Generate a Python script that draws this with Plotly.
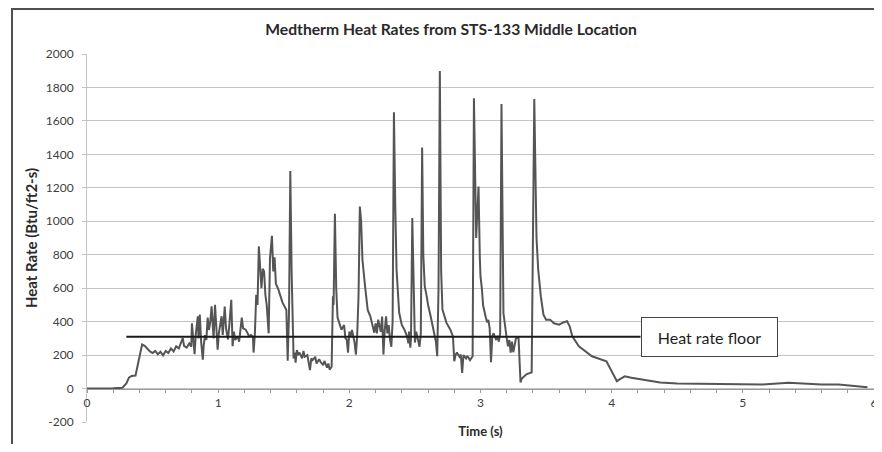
import plotly.graph_objects as go

# ---------------- data ----------------
time_s = [
    0.00, 0.10, 0.20, 0.27, 0.30, 0.32, 0.34, 0.37, 0.39, 0.41, 0.42, 0.44, 0.46, 0.48, 0.50,
    0.52, 0.54, 0.56, 0.58, 0.60, 0.62, 0.64, 0.66, 0.68, 0.70, 0.72, 0.73, 0.74, 0.76, 0.78,
    0.795, 0.80, 0.81, 0.82, 0.83, 0.845, 0.85, 0.86, 0.87, 0.883, 0.89, 0.90, 0.91, 0.92, 0.93,
    0.94, 0.95, 0.96, 0.965, 0.976, 0.985, 0.996, 1.005, 1.015, 1.026, 1.035, 1.05, 1.06, 1.075,
    1.085, 1.10, 1.11, 1.12, 1.13, 1.15, 1.16, 1.18, 1.19, 1.21, 1.225, 1.235, 1.25, 1.265, 1.27,
    1.28, 1.29, 1.30, 1.31, 1.33, 1.34, 1.35, 1.36, 1.37, 1.385, 1.395, 1.41, 1.42, 1.43, 1.44,
    1.46, 1.49, 1.52, 1.53, 1.54, 1.55, 1.56, 1.575, 1.585, 1.59, 1.60, 1.61, 1.62, 1.64, 1.65,
    1.66, 1.68, 1.69, 1.70, 1.71, 1.72, 1.74, 1.75, 1.77, 1.78, 1.80, 1.81, 1.83, 1.84, 1.85,
    1.865, 1.875, 1.88, 1.89, 1.90, 1.91, 1.92, 1.94, 1.96, 1.97, 1.98, 1.99, 2.00, 2.01, 2.02,
    2.04, 2.05, 2.06, 2.07, 2.08, 2.09, 2.10, 2.12, 2.14, 2.16, 2.17, 2.18, 2.19, 2.20, 2.21,
    2.22, 2.23, 2.24, 2.25, 2.26, 2.27, 2.28, 2.29, 2.30, 2.31, 2.32, 2.33, 2.34, 2.35, 2.36,
    2.38, 2.40, 2.42, 2.43, 2.44, 2.45, 2.455, 2.465, 2.47, 2.48, 2.49, 2.50, 2.51, 2.52, 2.535,
    2.545, 2.555, 2.564, 2.575, 2.59, 2.60, 2.62, 2.64, 2.66, 2.67, 2.68, 2.69, 2.70, 2.71, 2.72,
    2.74, 2.77, 2.79, 2.80, 2.81, 2.82, 2.84, 2.85, 2.86, 2.87, 2.89, 2.90, 2.92, 2.94, 2.95,
    2.967, 2.985, 2.995, 3.00, 3.01, 3.02, 3.04, 3.05, 3.06, 3.07, 3.08, 3.09, 3.10, 3.12, 3.13,
    3.14, 3.15, 3.16, 3.175, 3.19, 3.20, 3.21, 3.22, 3.23, 3.24, 3.25, 3.26, 3.27, 3.29, 3.305,
    3.315, 3.35, 3.39, 3.41, 3.427, 3.44, 3.46, 3.48, 3.50, 3.53, 3.56, 3.60, 3.63, 3.66, 3.68,
    3.70, 3.75, 3.85, 3.96, 4.04, 4.06, 4.10, 4.15, 4.22, 4.30, 4.37, 4.50, 4.62, 4.80, 4.97,
    5.15, 5.35, 5.48, 5.60, 5.73, 5.95, 6.00,
]
heat_rate = [
    0, 0, 2, 5, 30, 65, 75, 78, 150, 240, 263, 255, 238, 222, 212,
    225, 205, 220, 198, 225, 212, 240, 222, 252, 240, 280, 302, 255, 245, 270,
    250, 390, 300, 205, 330, 432, 300, 442, 280, 173, 260, 320, 290, 424, 350,
    400, 491, 380, 300, 501, 350, 233, 330, 380, 432, 320, 490, 360, 293,
    380, 531, 253, 340, 290, 312, 280, 424, 360, 352, 330, 312, 320, 310, 215,
    330, 561, 500, 850, 600, 716, 700, 560, 500, 330, 780, 913, 700, 784,
    627, 590, 515, 470, 167, 450, 1300, 700, 179, 215, 155, 230, 200, 215, 180,
    225, 190, 200, 160, 110, 180, 170, 190, 150, 175, 160, 140, 165, 125, 150,
    113, 130, 551, 500, 1045, 600, 424, 400, 352, 380, 300, 293, 215, 340, 312,
    350, 275, 203, 320, 550, 1088, 1000, 770, 611, 470, 432, 394, 360, 334, 390,
    330, 412, 380, 340, 430, 203, 350, 432, 330, 380, 293, 250, 400, 1652, 1100,
    710, 453, 380, 352, 330, 312, 270, 340, 245, 300, 1019, 500, 275, 340, 300,
    250, 330, 1441, 800, 611, 551, 501, 432, 352, 280, 193, 600, 1899, 700, 472,
    442, 394, 352, 312, 163, 200, 215, 190, 203, 94, 200, 180, 195, 170, 193,
    1735, 900, 1208, 776, 670, 600, 496, 426, 396, 410, 360, 157, 316, 330, 290,
    316, 280, 330, 1701, 450, 334, 300, 253, 290, 215, 280, 217, 250, 300, 303,
    36, 60, 85, 97, 1731, 900, 710, 551, 442, 412, 412, 390, 382, 395, 402,
    372, 312, 253, 193, 163, 44, 55, 73, 64, 55, 44, 36, 30, 29, 28,
    26, 24, 34, 27, 24, 24, 8,
]

floor_time = [0.3, 4.22]
floor_value = [310, 310]
floor_label = "Heat rate floor"

y_tick_vals = [-200, 0, 200, 400, 600, 800, 1000, 1200, 1400, 1600, 1800, 2000]
y_tick_text = [str(v) for v in y_tick_vals]
x_tick_vals = [0, 1, 2, 3, 4, 5, 6]
x_tick_text = [str(v) for v in x_tick_vals]

title_text = "Medtherm Heat Rates from STS-133 Middle Location"
x_title = "Time (s)"
y_title = "Heat Rate (Btu/ft2-s)"

FONT = "Lato, 'Open Sans', sans-serif"

# the page body has an 8 px margin: the figure is drawn 8 px in from the top-left
W, H = 874, 436

fig = go.Figure()
fig.add_trace(go.Scatter(
    x=time_s, y=heat_rate, mode="lines",
    line=dict(color="#555555", width=2), showlegend=False, hoverinfo="skip",
))
fig.add_trace(go.Scatter(
    x=floor_time, y=floor_value, mode="lines",
    line=dict(color="#1a1a1a", width=2), showlegend=False, hoverinfo="skip",
))

y0, y1 = -200, 2000
zero_pos = (0 - y0) / (y1 - y0)

fig.update_layout(
    width=W, height=H,
    margin=dict(l=79, r=8, t=46, b=22),
    paper_bgcolor="white", plot_bgcolor="white",
    font=dict(family=FONT, size=12, color="#404040"),
    title=dict(text="<b>" + title_text + "</b>", x=443 / W, xref="container", xanchor="center",
               y=1 - 22 / H, yref="container", yanchor="middle",
               font=dict(family=FONT, size=15.7, color="#2a2a2a")),
    xaxis=dict(
        range=[0, 6], anchor="free", position=zero_pos,
        tickvals=x_tick_vals, ticktext=x_tick_text,
        showgrid=False, zeroline=False,
        showline=True, linecolor="#9a9a9a", linewidth=1,
        ticks="outside", ticklen=3, tickcolor="#9a9a9a",
        minor=dict(dtick=0.2, tick0=0, ticks="outside", ticklen=3, tickcolor="#9a9a9a"),
        tickfont=dict(size=12, color="#404040"),
        title=dict(text="<b>" + x_title + "</b>", standoff=17,
                   font=dict(family=FONT, size=13, color="#2a2a2a")),
        automargin=False,
    ),
    yaxis=dict(
        range=[y0, y1], tickvals=y_tick_vals, ticktext=y_tick_text,
        showgrid=True, gridcolor="#c4c4c4", gridwidth=1,
        zeroline=False, showline=True, linecolor="#c4c4c4", linewidth=1,
        ticks="outside", ticklen=4, tickcolor="#c4c4c4",
        ticklabelstandoff=6,
        tickfont=dict(size=12, color="#404040"),
        title=dict(text="<b>" + y_title + "</b>", standoff=4,
                   font=dict(family=FONT, size=15, color="#2a2a2a")),
        automargin=False,
    ),
    annotations=[dict(
        x=floor_time[-1], y=floor_value[-1], xref="x", yref="y",
        xanchor="left", yanchor="middle", showarrow=False,
        text=floor_label, font=dict(family=FONT, size=16, color="#1e1e1e"),
        bgcolor="white", bordercolor="#444444", borderwidth=1, borderpad=5,
        width=125, height=28, align="center",
    )],
    shapes=[dict(
        type="rect", xref="paper", yref="paper",
        x0=(12 - 87) / 787, x1=(879 - 87) / 787,
        y0=(422 - 470) / 368, y1=(422 - 9) / 368,
        line=dict(color="#505050", width=2), fillcolor="rgba(0,0,0,0)", layer="below",
    )],
)

fig.write_html("out.html")
